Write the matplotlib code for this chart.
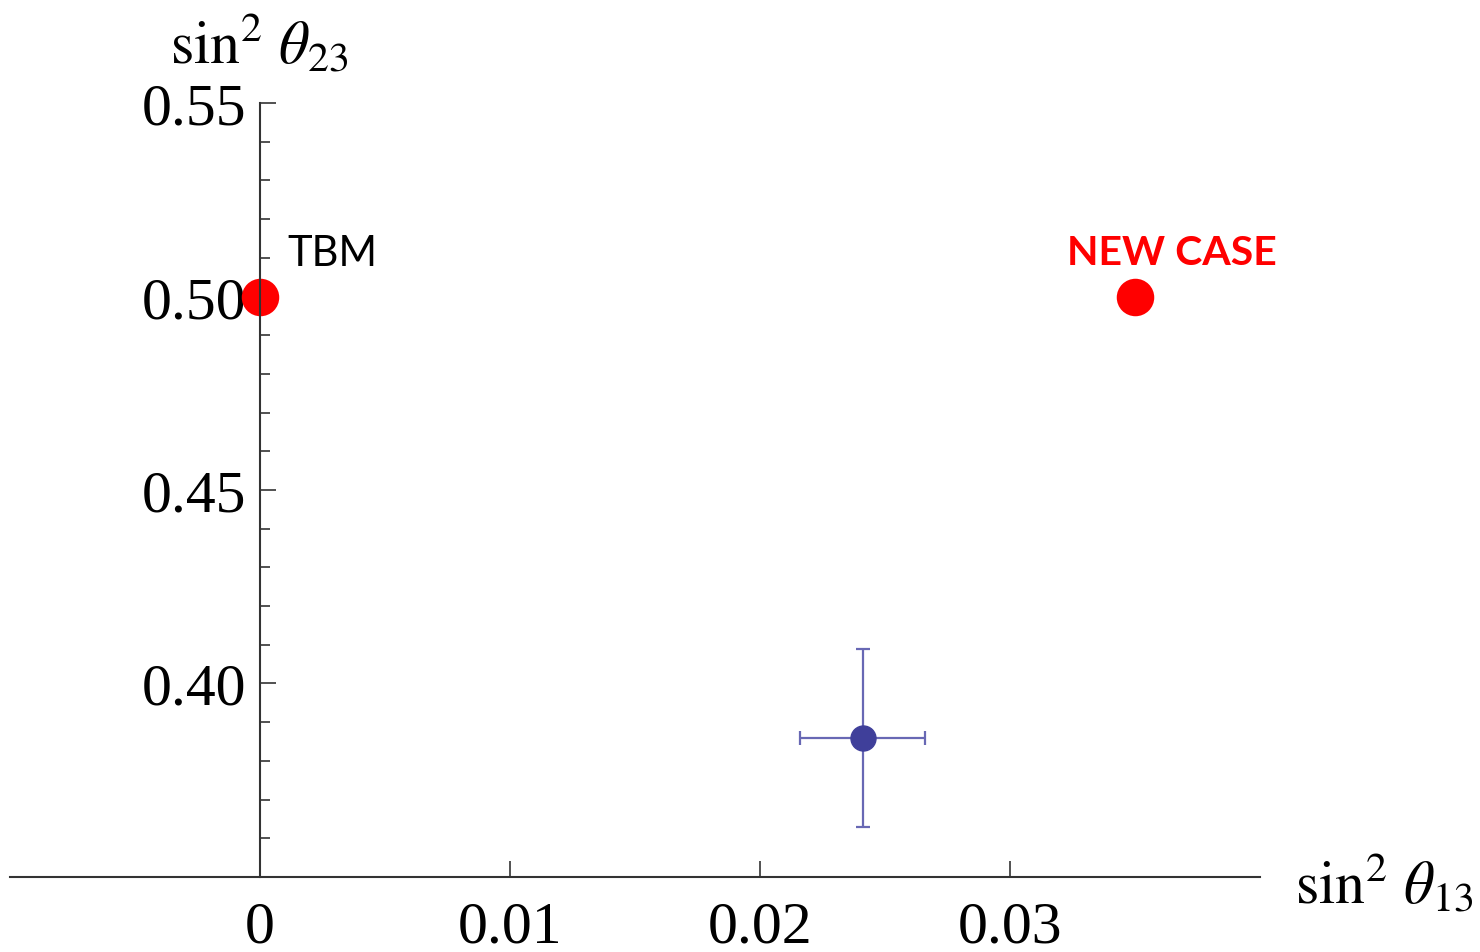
import matplotlib.pyplot as plt
from matplotlib.ticker import FixedLocator

plt.rcParams['mathtext.fontset'] = 'stix'

# data
special_names = ['TBM', 'NEW CASE']
special_x = [0.0, 0.035]
special_y = [0.50, 0.50]

fit_x = [0.0241]
fit_y = [0.386]
fit_xerr = [0.0025]
fit_yerr = [0.023]

x_ticks = [0, 0.01, 0.02, 0.03]
x_labels = ['0', '0.01', '0.02', '0.03']
y_ticks = [0.40, 0.45, 0.50, 0.55]
y_labels = ['0.40', '0.45', '0.50', '0.55']
y_minor = [0.36, 0.37, 0.38, 0.39, 0.41, 0.42, 0.43, 0.44, 0.46, 0.47, 0.48, 0.49,
           0.51, 0.52, 0.53, 0.54]

fig = plt.figure(figsize=(14.8, 9.53), dpi=100)
ax = fig.add_axes([10 / 1480, 75 / 953, 1250 / 1480, 774 / 953])
ax.set_xlim(-0.01, 0.04)
ax.set_ylim(0.35, 0.55)

axis_col = '#333333'
ax.spines['top'].set_visible(False)
ax.spines['right'].set_visible(False)
ax.spines['left'].set_position(('data', 0))
for s in ['left', 'bottom']:
    ax.spines[s].set_color(axis_col)
    ax.spines[s].set_linewidth(1.5)

ax.xaxis.set_major_locator(FixedLocator(x_ticks))
ax.set_xticklabels(x_labels)
ax.yaxis.set_major_locator(FixedLocator(y_ticks))
ax.set_yticklabels(y_labels)
ax.yaxis.set_minor_locator(FixedLocator(y_minor))
ax.tick_params(axis='both', which='major', direction='in', length=11.5, width=1.2,
               color=axis_col, labelsize=43, labelfontfamily='Liberation Serif')
ax.tick_params(axis='x', which='major', pad=17)
ax.tick_params(axis='y', which='major', pad=10)
ax.tick_params(axis='y', which='minor', direction='in', length=7, width=1.2, color=axis_col)

ax.plot(special_x, special_y, 'o', color='#ff0000', markersize=27, markeredgewidth=0, zorder=2)

ax.errorbar(fit_x, fit_y, xerr=fit_xerr, yerr=fit_yerr, fmt='o', color='#3f3f9a',
            markersize=18, ecolor='#6868b4', elinewidth=1.6, capsize=5, capthick=1.6)

ax.text(special_x[0] + 0.0011, special_y[0] + 0.0082, special_names[0], fontsize=30,
        family='Lato', color='black', ha='left', va='baseline')
ax.text(special_x[1] - 0.00272, special_y[1] + 0.0085, special_names[1], fontsize=29.5,
        family='Lato', weight='bold', color='#ff0000', ha='left', va='baseline')

fig.text(259 / 1480, 1 - 45 / 953, r'$\sin^{2}\,\theta_{23}$', fontsize=43,
         ha='center', va='center')
fig.text(1295 / 1480, 1 - 885 / 953, r'$\sin^{2}\,\theta_{13}$', fontsize=43,
         ha='left', va='center')

fig.savefig('out.png', dpi=100)
